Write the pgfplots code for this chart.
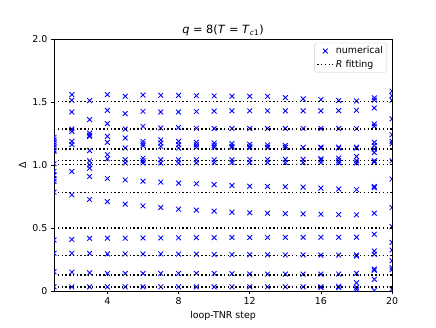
\documentclass[border=0pt]{standalone}
\usepackage{pgfplots}
\pgfplotsset{compat=1.18}
\usepackage{fontspec}
\setmainfont{DejaVu Sans}
\begin{document}
\begin{tikzpicture}
\path[use as bounding box] (-57.2pt,-38.1pt) rectangle (404.4pt,308.2pt);
\begin{axis}[
  scale only axis, width=357.9pt, height=266.9pt,
  at={(0,0)}, anchor=south west,
  xmin=1, xmax=20, ymin=0, ymax=2,
  xtick={4,8,12,16,20},
  ytick={0,0.5,1,1.5,2}, yticklabels={0,0.5,1.0,1.5,2.0},
  /pgf/number format/assume math mode=true,
  tick align=outside, major tick length=3.5pt,
  xtick pos=bottom, ytick pos=left,
  tick style={black, line width=0.8pt},
  axis line style={line width=0.8pt},
  ticklabel style={font=\fontsize{10pt}{12pt}\selectfont},
  title={\textit{q} = 8(\textit{T} = \textit{T}\textsubscript{\textit{c}1})},
  title style={font=\fontsize{12pt}{14pt}\selectfont, yshift=-6pt},
  xlabel={loop-TNR step},
  ylabel={Δ},
  label style={font=\fontsize{10pt}{12pt}\selectfont},
  clip marker paths=true,
  legend cell align=left,
  legend style={font=\fontsize{10pt}{12pt}\selectfont, draw=black!20, rounded corners=2pt, inner sep=2pt, at={(0.985,0.985)}, anchor=north east, row sep=1pt},
]
\addplot[only marks, mark=x, mark size=3.6pt, blue, mark options={line width=0.9pt}] table {
x y
1 1.22
1 1.20
1 1.18
1 1.16
1 1.14
1 1.12
1 1.11
1 1.01
1 0.95
1 0.92
1 0.89
1 0.87
1 0.785
1 0.406
1 0.30
1 0.154
1 0.034
2 1.559
2 1.514
2 1.421
2 1.286
2 1.267
2 1.188
2 1.162
2 0.949
2 0.764
2 0.41
2 0.30
2 0.15
2 0.033
3 1.511
3 1.36
3 1.254
3 1.236
3 1.228
3 1.114
3 1.034
3 1.002
3 0.976
3 0.909
3 0.727
3 0.419
3 0.30
3 0.145
3 0.034
4 1.559
4 1.434
4 1.329
4 1.228
4 1.18
4 1.082
4 1.05
4 0.893
4 0.71
4 0.42
4 0.295
4 0.14
4 0.034
5 1.546
5 1.408
5 1.286
5 1.215
5 1.135
5 1.042
5 1.016
5 0.882
5 0.69
5 0.42
5 0.295
5 0.14
5 0.034
6 1.556
6 1.426
6 1.307
6 1.188
6 1.17
6 1.153
6 1.055
6 1.034
6 1.016
6 0.872
6 0.676
6 0.422
6 0.295
6 0.14
6 0.034
7 1.553
7 1.421
7 1.294
7 1.2
7 1.175
7 1.148
7 1.042
7 1.016
7 0.865
7 0.663
7 0.422
7 0.295
7 0.14
7 0.034
8 1.553
8 1.421
8 1.298
8 1.188
8 1.162
8 1.135
8 1.042
8 1.016
8 0.857
8 0.65
8 0.423
8 0.294
8 0.14
8 0.034
9 1.55
9 1.425
9 1.292
9 1.18
9 1.16
9 1.14
9 1.042
9 1.018
9 0.852
9 0.642
9 0.424
9 0.293
9 0.14
9 0.034
10 1.548
10 1.428
10 1.29
10 1.175
10 1.155
10 1.14
10 1.042
10 1.02
10 0.845
10 0.634
10 0.424
10 0.29
10 0.14
10 0.034
11 1.546
11 1.43
11 1.29
11 1.17
11 1.15
11 1.14
11 1.042
11 1.02
11 0.838
11 0.626
11 0.425
11 0.29
11 0.138
11 0.034
12 1.546
12 1.43
12 1.29
12 1.165
12 1.145
12 1.138
12 1.045
12 1.02
12 0.832
12 0.621
12 0.425
12 0.288
12 0.136
12 0.034
13 1.545
13 1.43
13 1.29
13 1.16
13 1.142
13 1.138
13 1.045
13 1.02
13 0.83
13 0.618
13 0.426
13 0.288
13 0.135
13 0.034
14 1.535
14 1.43
14 1.29
14 1.155
14 1.14
14 1.045
14 1.02
14 0.828
14 0.615
14 0.426
14 0.287
14 0.135
14 0.034
15 1.525
15 1.43
15 1.29
15 1.14
15 1.045
15 1.02
15 0.825
15 0.613
15 0.427
15 0.287
15 0.135
15 0.034
16 1.52
16 1.43
16 1.29
16 1.142
16 1.135
16 1.05
16 1.04
16 1.02
16 0.817
16 0.61
16 0.427
16 0.286
16 0.135
16 0.034
16 0.03
17 1.512
17 1.432
17 1.29
17 1.142
17 1.135
17 1.055
17 1.035
17 1.018
17 0.81
17 0.607
17 0.427
17 0.286
17 0.135
17 0.038
17 0.028
18 1.508
18 1.434
18 1.289
18 1.142
18 1.135
18 1.068
18 1.034
18 1.016
18 0.805
18 0.605
18 0.427
18 0.286
18 0.278
18 0.141
18 0.066
18 0.03
18 0.015
19 1.533
19 1.515
19 1.453
19 1.326
19 1.307
19 1.18
19 1.156
19 1.127
19 1.10
19 1.034
19 1.024
19 0.83
19 0.82
19 0.618
19 0.451
19 0.318
19 0.292
19 0.175
19 0.165
19 0.093
19 0.004
20 1.586
20 1.55
20 1.514
20 1.366
20 1.241
20 1.188
20 1.17
20 1.034
20 0.889
20 0.663
20 0.512
20 0.387
20 0.326
20 0.241
20 0.185
20 0.17
20 0.016
};
\addlegendentry{numerical}
\pgfplotsset{fitline/.style={black, line width=1.5pt, dash pattern=on 1.5pt off 2.5pt}}
\addplot[fitline, forget plot] coordinates {(1,0.034) (20,0.034)};
\addplot[fitline, forget plot] coordinates {(1,0.129) (20,0.129)};
\addplot[fitline, forget plot] coordinates {(1,0.283) (20,0.283)};
\addplot[fitline, forget plot] coordinates {(1,0.502) (20,0.502)};
\addplot[fitline, forget plot] coordinates {(1,0.783) (20,0.783)};
\addplot[fitline, forget plot] coordinates {(1,1.005) (20,1.005)};
\addplot[fitline, forget plot] coordinates {(1,1.034) (20,1.034)};
\addplot[fitline, forget plot] coordinates {(1,1.127) (20,1.127)};
\addplot[fitline, forget plot] coordinates {(1,1.286) (20,1.286)};
\addplot[fitline] coordinates {(1,1.503) (20,1.503)};
\addlegendentry{\textit{R} fitting}
\end{axis}
\end{tikzpicture}
\end{document}
